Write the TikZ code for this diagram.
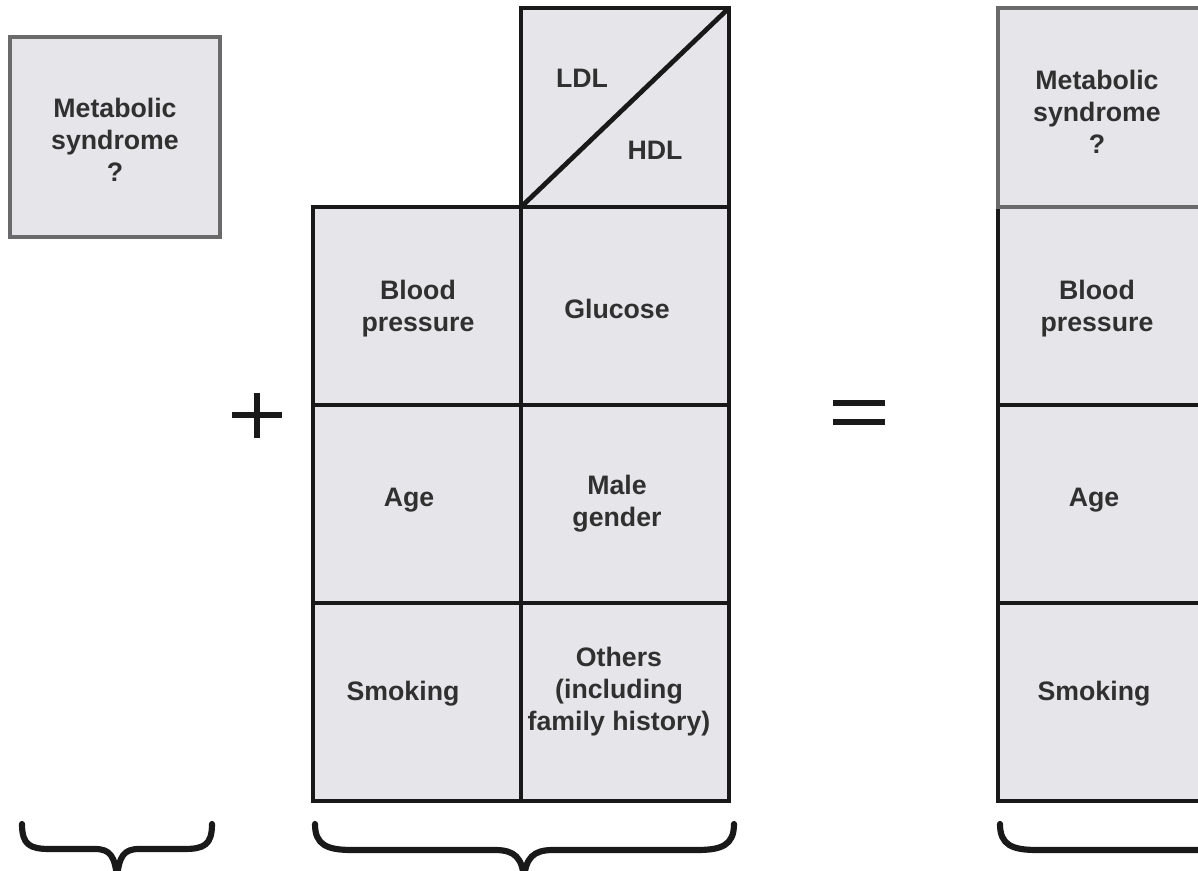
\documentclass[tikz,border=0pt]{standalone}
\usepackage{fontspec}
\setmainfont{Liberation Sans}
\definecolor{cellfill}{HTML}{E6E6EA}
\definecolor{celltext}{HTML}{303030}
\definecolor{boxgray}{HTML}{6A6A6A}
\tikzset{
    cell/.style={fill=cellfill, draw=black!90, line width=2.7pt},
    factor/.style={text=celltext, font=\fontsize{15.2}{18.2}\selectfont\bfseries, align=center},
    sign/.style={draw=black!90, line width=3.2pt},
    brace/.style={draw=black!90, line width=3.5pt, line cap=round},
}
\begin{document}
\begin{tikzpicture}[x=0.02cm,y=-0.02cm]
    \useasboundingbox (0,0) rectangle (1198,871);
    \clip (0,0) rectangle (1198,871);
    % single box
    \draw[cell, draw=boxgray] (10,37) rectangle (220,237);
    \node[factor] (ms) at (115,140) {Metabolic\\syndrome\\?};
    % plus
    \draw[sign] (232,415) -- (282,415) (257,393) -- (257,438);
    % risk factor grid
    \foreach \y in {207,405,603}
        \foreach \x in {313,521}
            \draw[cell] (\x,\y) rectangle +(208,198);
    \draw[cell] (521,8) rectangle (729,207);
    \draw[cell] (521,207) -- (729,8);
    \node[factor] (ldl) at (582,78) {LDL};
    \node[factor] (hdl) at (655,150) {HDL};
    \node[factor] (bp) at (418,309) {Blood\\pressure};
    \node[factor] (glu) at (617,309) {Glucose};
    \node[factor] (age) at (409,500) {Age};
    \node[factor] (male) at (617,504) {Male\\gender};
    \node[factor] (smk) at (403,694) {Smoking};
    \node[factor] (oth) at (619,692) {Others\\(including\\family history)};
    % equals
    \draw[sign, line width=3.8pt] (833,403) -- (885,403) (833,422) -- (885,422);
    % combined grid
    \foreach \y in {207,405,603}
        \draw[cell] (998,\y) rectangle +(208,198);
    \draw[cell, draw=boxgray] (998,8) rectangle (1206,207);
    \node[factor] (msr) at (1097,112) {Metabolic\\syndrome\\?};
    \node[factor] (bpr) at (1097,309) {Blood\\pressure};
    \node[factor] (ager) at (1094,500) {Age};
    \node[factor] (smkr) at (1094,694) {Smoking};
    % braces
    \draw[brace] (22,824) .. controls (22,845) and (30,849) .. (50,849) -- (95,849)
        .. controls (110,849) and (115,856) .. (117,878);
    \draw[brace] (212,824) .. controls (212,845) and (204,849) .. (184,849) -- (139,849)
        .. controls (124,849) and (119,856) .. (117,878);
    \draw[brace] (315,824) .. controls (315,845) and (327,850) .. (352,850) -- (495,850)
        .. controls (515,850) and (522,858) .. (524,878);
    \draw[brace] (734,824) .. controls (734,845) and (722,850) .. (697,850) -- (553,850)
        .. controls (533,850) and (526,858) .. (524,878);
    \draw[brace] (1000,824) .. controls (1000,845) and (1012,850) .. (1037,850) -- (1210,850);
\end{tikzpicture}
\end{document}
